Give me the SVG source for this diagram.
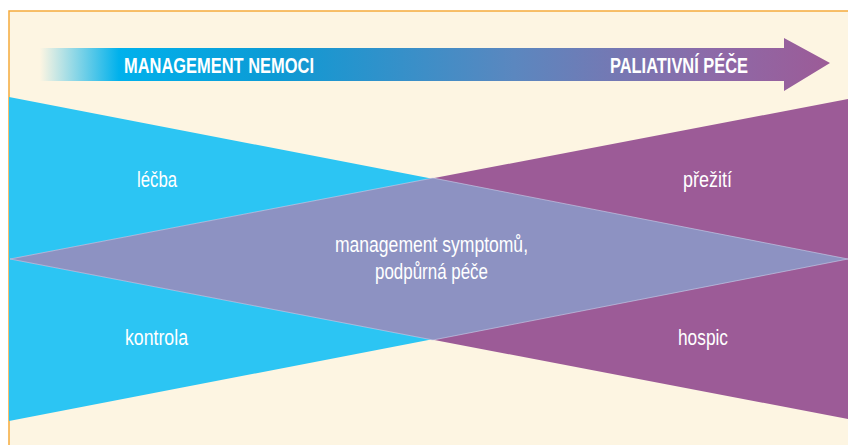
<svg xmlns="http://www.w3.org/2000/svg" width="848" height="445" viewBox="0 0 848 445">
<defs>
<linearGradient id="arrowGrad" x1="40" y1="0" x2="830" y2="0" gradientUnits="userSpaceOnUse">
<stop offset="0" stop-color="#FDF5E2"/>
<stop offset="0.1" stop-color="#00B1EC"/>
<stop offset="0.3" stop-color="#0D9AD4"/>
<stop offset="0.6" stop-color="#5B87BF"/>
<stop offset="0.85" stop-color="#8D6AA8"/>
<stop offset="1" stop-color="#9C5B97"/>
</linearGradient>
<style>
.lbl{font-family:"Liberation Sans Narrow","Liberation Sans",Arial,sans-serif;font-size:22px;fill:#FFFFFF;text-anchor:middle}
.hdr{font-family:"Liberation Sans Narrow","Liberation Sans",Arial,sans-serif;font-size:22px;font-weight:bold;fill:#FFFFFF}
</style>
</defs>
<rect x="0" y="0" width="848" height="445" fill="#FFFFFF"/>
<rect x="9" y="11" width="839" height="434" fill="#FDF5E2"/>
<path d="M9 445 V11 H848" fill="none" stroke="#F5AA3C" stroke-width="1.5"/>
<g id="arrow">
<polygon points="40,48 784,48 784,38 830,63 784,91 784,81 40,81" fill="url(#arrowGrad)"/>
<text class="hdr" x="124" y="73" textLength="190" lengthAdjust="spacingAndGlyphs">MANAGEMENT NEMOCI</text>
<text class="hdr" x="610" y="73" textLength="138" lengthAdjust="spacingAndGlyphs">PALIATIVNÍ PÉČE</text>
</g>
<g id="disease-management">
<polygon points="9,97 9,421 848,259" fill="#2CC5F3"/>
</g>
<g id="palliative-care">
<polygon points="848,99 848,419 10,259" fill="#9C5B97"/>
</g>
<g id="symptom-management">
<polygon points="10,259 433,178 848,259 433,340" fill="#8D92C2" stroke="#C9D3EC" stroke-width="0.6"/>
<text class="lbl" x="431.5" y="252" textLength="193" lengthAdjust="spacingAndGlyphs">management symptomů,</text>
<text class="lbl" x="431.5" y="279" textLength="113" lengthAdjust="spacingAndGlyphs">podpůrná péče</text>
</g>
<g id="lecba"><text class="lbl" x="157" y="187" textLength="40" lengthAdjust="spacingAndGlyphs">léčba</text></g>
<g id="kontrola"><text class="lbl" x="156.5" y="345" textLength="63" lengthAdjust="spacingAndGlyphs">kontrola</text></g>
<g id="preziti"><text class="lbl" x="707.5" y="187" textLength="49" lengthAdjust="spacingAndGlyphs">přežití</text></g>
<g id="hospic"><text class="lbl" x="703" y="345" textLength="50" lengthAdjust="spacingAndGlyphs">hospic</text></g>
</svg>
